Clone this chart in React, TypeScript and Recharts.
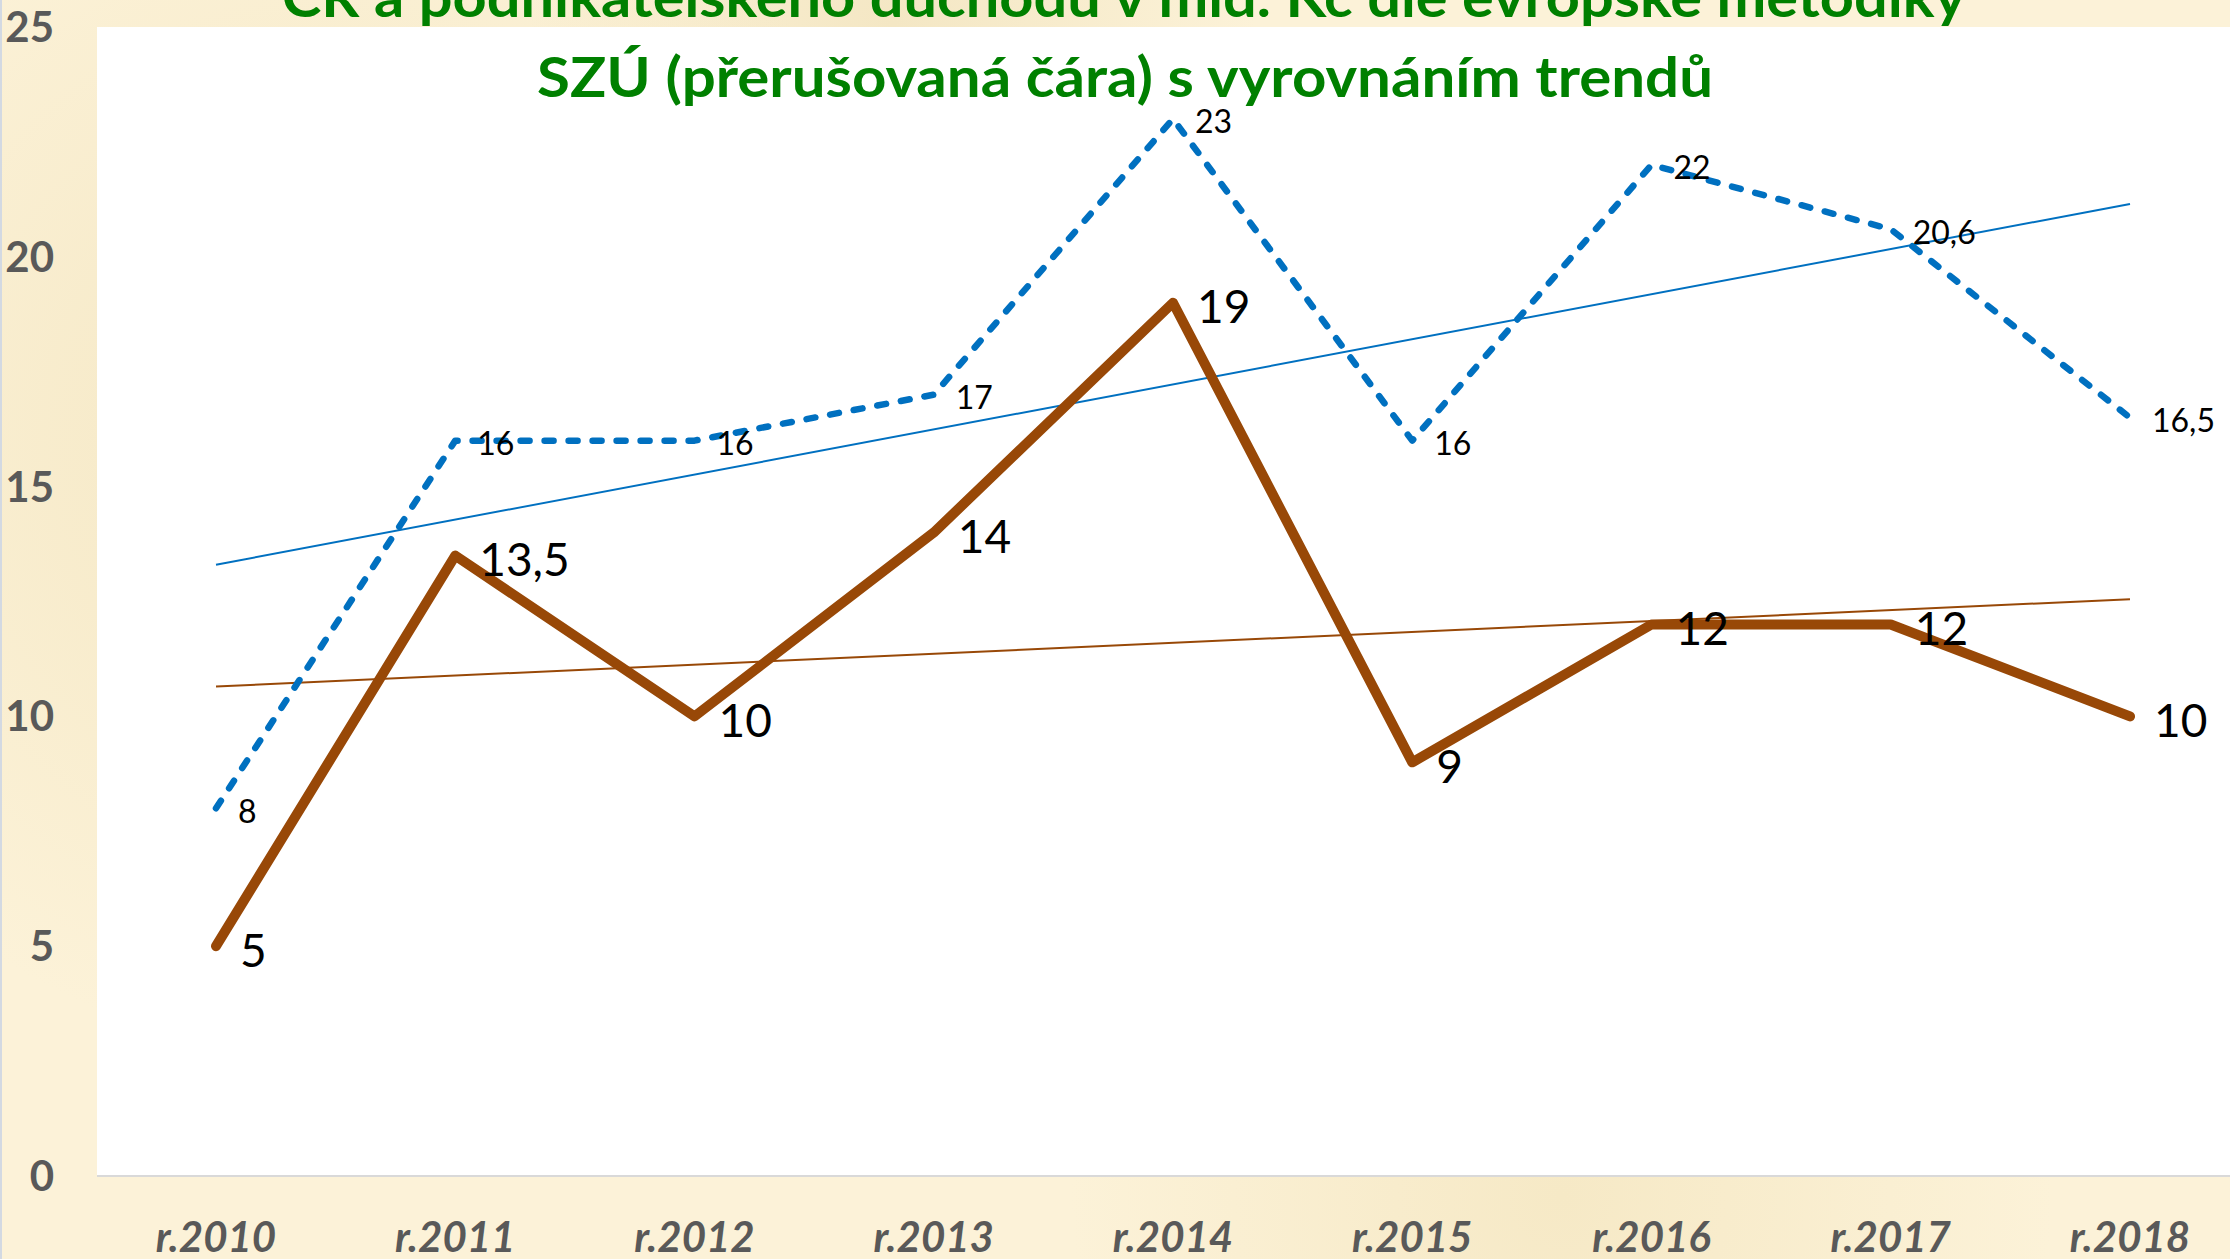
import React from 'react';
import {
  LineChart,
  Line,
  XAxis,
  YAxis,
  CartesianGrid,
  LabelList,
} from 'recharts';

const categories = ['r.2010', 'r.2011', 'r.2012', 'r.2013', 'r.2014', 'r.2015', 'r.2016', 'r.2017', 'r.2018'];
// SZÚ, dashed blue
const szuValues = [8, 16, 16, 17, 23, 16, 22, 20.6, 16.5];
// ČR, thick brown
const crValues = [5, 13.5, 10, 14, 19, 9, 12, 12, 10];
// trend line end points
const szuTrend = [13.3, null, null, null, null, null, null, null, 21.15];
const crTrend = [10.65, null, null, null, null, null, null, null, 12.55];
const yTicks = [0, 5, 10, 15, 20, 25];

const data = categories.map((c, i) => ({
  name: c,
  szu: szuValues[i],
  cr: crValues[i],
  szuTrend: szuTrend[i],
  crTrend: crTrend[i],
}));

const FONT = 'Lato, "Open Sans", sans-serif';
const fmt = (v: number) => String(v).replace('.', ',');

const XTick = (props: any) => {
  const {x, y, payload} = props;
  return (
    <text
      x={x}
      y={y + 76}
      textAnchor="middle"
      fontFamily={FONT}
      fontWeight="bold"
      fontStyle="italic"
      fontSize={42}
      fill="#595959"
    >
      {payload.value}
    </text>
  );
};

const YTick = (props: any) => {
  const {y, payload} = props;
  return (
    <text
      x={52}
      y={y + 15}
      textAnchor="end"
      fontFamily={FONT}
      fontWeight="bold"
      fontSize={42}
      fill="#595959"
    >
      {payload.value}
    </text>
  );
};

const makeLabel = (size: number, dx: number, dy: number) => (props: any) => {
  const {x, y, value} = props;
  if (value == null) return null;
  return (
    <text
      x={x + dx}
      y={y + size * 0.36 + dy}
      fontFamily={FONT}
      fontSize={size}
      fill="#000"
    >
      {fmt(value)}
    </text>
  );
};

export default function App() {
  return (
    <div
      style={{
        position: 'absolute',
        left: 0,
        top: 0,
        width: 2230,
        height: 1259,
        overflow: 'hidden',
        borderLeft: '2px solid #d3d9e2',
        boxSizing: 'border-box',
        background:
          'radial-gradient(circle at 15% 35%, rgba(238,222,178,0.55), transparent 30%),' +
          'radial-gradient(circle at 70% 95%, rgba(240,224,180,0.5), transparent 25%),' +
          'radial-gradient(circle at 40% 2%, rgba(236,220,176,0.5), transparent 20%),' +
          '#fcf2d8',
      }}
    >
      <LineChart
        width={2247}
        height={1259}
        data={data}
        margin={{top: 27, right: 0, bottom: 0, left: 0}}
      >
        <CartesianGrid horizontal={false} vertical={false} fill="#ffffff" stroke="none" />
        <XAxis
          dataKey="name"
          height={83}
          padding={{left: 119, right: 119}}
          tickLine={false}
          tickSize={0}
          tickMargin={0}
          axisLine={{stroke: '#d9d9d9', strokeWidth: 2}}
          tick={<XTick />}
          interval={0}
        />
        <YAxis
          width={95}
          domain={[0, 25]}
          ticks={yTicks}
          axisLine={false}
          tickLine={false}
          tick={<YTick />}
        />
        <Line
          dataKey="szuTrend"
          stroke="#0070c0"
          strokeWidth={2}
          dot={false}
          connectNulls
          isAnimationActive={false}
        />
        <Line
          dataKey="crTrend"
          stroke="#984807"
          strokeWidth={2}
          dot={false}
          connectNulls
          isAnimationActive={false}
        />
        <Line
          dataKey="szu"
          stroke="#0070c0"
          strokeWidth={6.5}
          strokeDasharray="9 15"
          strokeLinecap="round"
          strokeLinejoin="round"
          dot={false}
          isAnimationActive={false}
        >
          <LabelList dataKey="szu" content={makeLabel(32, 22, 3)} />
        </Line>
        <Line
          dataKey="cr"
          stroke="#984807"
          strokeWidth={10}
          strokeLinecap="round"
          strokeLinejoin="round"
          dot={false}
          isAnimationActive={false}
        >
          <LabelList dataKey="cr" content={makeLabel(46, 24, 4)} />
        </Line>
      </LineChart>
      <svg
        width={2230}
        height={1259}
        style={{position: 'absolute', left: 0, top: 0, pointerEvents: 'none'}}
      >
        <text
          x={1122}
          y={17}
          textAnchor="middle"
          fontFamily={FONT}
          fontWeight="bold"
          fontSize={56}
          fill="#008000"
          textLength={1684}
          lengthAdjust="spacingAndGlyphs"
        >
          ČR a podnikatelského důchodu v mld. Kč dle evropské metodiky
        </text>
        <text
          x={1123}
          y={97}
          textAnchor="middle"
          fontFamily={FONT}
          fontWeight="bold"
          fontSize={56}
          fill="#008000"
          textLength={1176}
          lengthAdjust="spacingAndGlyphs"
        >
          SZÚ (přerušovaná čára) s vyrovnáním trendů
        </text>
      </svg>
    </div>
  );
}
